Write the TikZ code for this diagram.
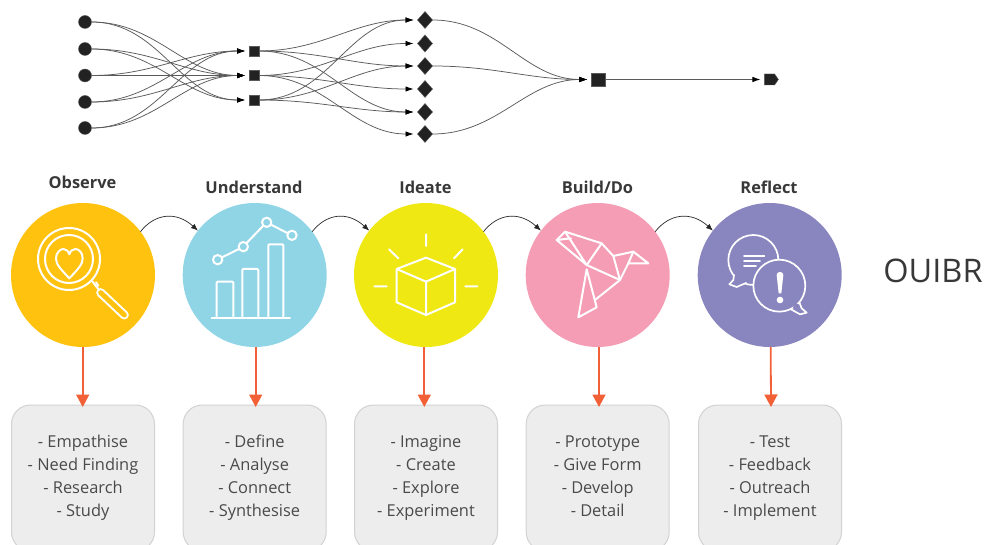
\documentclass[tikz,border=0pt]{standalone}
\usepackage{fontspec}
\setmainfont{Open Sans}
\usetikzlibrary{arrows.meta,shapes.geometric,shapes.symbols}
\definecolor{cObs}{HTML}{FFC20E}
\definecolor{cUnd}{HTML}{8FD5E5}
\definecolor{cIde}{HTML}{EFE813}
\definecolor{cBui}{HTML}{F49DB5}
\definecolor{cRef}{HTML}{8985BE}
\definecolor{cRed}{HTML}{F26038}
\definecolor{cBox}{HTML}{EDEDED}
\definecolor{cBord}{HTML}{D2D2D2}
\definecolor{cTxt}{HTML}{4A4A4A}
\definecolor{cDark}{HTML}{222222}
\definecolor{cEdge}{HTML}{5A5A5A}
\newcommand\cardlines[4]{\rule[-5pt]{0pt}{18pt}#1\\#2\\#3\\\rule[-5pt]{0pt}{18pt}#4}
\tikzset{
  every node/.style={inner sep=0pt,outer sep=0pt},
  flowdot/.style={circle,fill=cDark,draw=cEdge,line width=.4pt,minimum size=13pt},
  flowsq/.style={rectangle,fill=cDark,draw=cEdge,line width=.4pt,minimum size=10pt},
  flowdia/.style={diamond,fill=cDark,draw=cEdge,line width=.4pt,minimum width=15pt,minimum height=17pt},
  flowedge/.style={draw=cEdge,line width=.75pt,shorten >=4pt,-{Latex[length=8pt,width=5.5pt,black]}},
  stage/.style={circle,minimum size=144pt},
  title/.style={font=\bfseries\fontsize{16.4}{18}\selectfont,text=cDark!90!white},
  card/.style={rectangle,rounded corners=19pt,fill=cBox,draw=cBord,line width=1pt,minimum width=143pt,minimum height=146pt,align=center,text=cTxt,font=\fontsize{16.4}{22.8}\selectfont},
  drop/.style={draw=cRed,line width=1.8pt,-{Triangle[length=12.5pt,width=13pt]}},
  hop/.style={draw=black!85,line width=.7pt,-{Latex[length=7pt,width=5.5pt]}},
  icon/.style={draw=white,line width=2pt,line cap=round,line join=round},
}
\begin{document}
\begin{tikzpicture}[x=1pt,y=-1pt]
\useasboundingbox (0,0) rectangle (999,545);
\clip (0,0) rectangle (999,545);
% top flow
\foreach \n/\y in {1/22,2/49,3/75.5,4/102,5/128}{\node[flowdot] (c\n) at (85,\y) {};}
\foreach \n/\y in {1/51,2/75.5,3/100}{\node[flowsq] (s\n) at (254,\y) {};}
\foreach \n/\y in {1/20,2/43.5,3/66,4/89,5/112,6/134}{\node[flowdia] (d\n) at (425,\y) {};}
\node[rectangle,fill=cDark,draw=cEdge,line width=.4pt,minimum size=13.5pt] (big) at (598,79.5) {};
\node[signal,signal to=east,signal pointer angle=110,fill=cDark,draw=cEdge,line width=.4pt,minimum width=14pt,minimum height=11pt] (end) at (769.5,79.5) {};
\foreach \a/\b in {c1/s2,c1/s3,c2/s2,c2/s3,c3/s1,c3/s2,c4/s1,c4/s2,c5/s1,c5/s2,
  s1/d1,s1/d3,s1/d5,s2/d2,s2/d4,s2/d6,s3/d1,s3/d3,s3/d5,d1/big,d3/big,d6/big}
  {\draw[flowedge] (\a.east) to[out=0,in=180] (\b.west);}
\draw[flowedge] (big.east) -- (end.west);
% stages
\node[stage,fill=cObs] (o) at (83,275) {};
\node[stage,fill=cUnd] (u) at (254.7,275) {};
\node[stage,fill=cIde] (i) at (426,275) {};
\node[stage,fill=cBui] (b) at (597.7,275) {};
\node[stage,fill=cRef] (r) at (769.7,275) {};
\node[title] (to) at (82.5,182.5) {Observe};
\node[title] (tu) at (254,187.5) {Understand};
\node[title] (ti) at (425.5,187.5) {Ideate};
\node[title] (tb) at (597.5,187.5) {Build/Do};
\node[title] (tr) at (769,187.5) {Reflect};
\node[card] (co) at (83,478) {\cardlines{- Empathise}{- Need Finding}{- Research}{- Study}};
\node[card] (cu) at (254.7,478) {\cardlines{- Define}{- Analyse}{- Connect}{- Synthesise}};
\node[card] (ci) at (426,478) {\cardlines{- Imagine}{- Create}{- Explore}{- Experiment}};
\node[card] (cb) at (597.7,478) {\cardlines{- Prototype}{- Give Form}{- Develop}{- Detail}};
\node[card] (cr) at (770,478) {\cardlines{- Test}{- Feedback}{- Outreach}{- Implement}};
\foreach \a/\b/\d in {o/co/-.3,u/cu/1,i/ci/-1.7,b/cb/1.3,r/cr/1}
  {\draw[drop] ([xshift=\d pt]\a.south) -- ([xshift=\d pt,yshift=-2pt]\b.north);}
\foreach \a/\b in {o/u,u/i,i/b,b/r}
  {\draw[hop] (\a.37) .. controls +(14,-18) and +(-22,-20) .. (\b.142);}
\node[font=\fontsize{32.5}{36}\selectfont,text=cDark!90!white] (name) at (933,271) {OUIBR};
% magnifier
\begin{scope}[shift={(30,225)},scale=1/3]
\draw[icon] (117,102) circle (93) (117,102) circle (72);
\draw[icon] (118,160) .. controls (90,130) and (78,118) .. (78,100) .. controls (78,82) and (92,72) .. (100,72) .. controls (108,72) and (115,78) .. (118,88) .. controls (121,78) and (128,72) .. (136,72) .. controls (146,72) and (158,82) .. (158,100) .. controls (158,118) and (146,130) .. (118,160) -- cycle;
\draw[icon] (186,168) -- (215,205);
\draw[icon] (198,172) -- (205,182);
\draw[white,line width=9pt,line cap=round] (212,203) -- (283,270);
\draw[cObs,line width=5pt,line cap=round] (212,203) -- (283,270);
\end{scope}
% chart
\begin{scope}[shift={(0,165)},scale=1/3]
\draw[icon,rounded corners=1pt] (650,455) -- (650,350) -- (700,350) -- (700,455);
\draw[icon,rounded corners=1pt] (727,455) -- (727,312) -- (775,312) -- (775,455);
\draw[icon,rounded corners=1pt] (805,455) -- (805,238) -- (850,238) -- (850,455);
\draw[icon] (635,460) -- (870,460);
\draw[icon] (666,277) -- (717,252) (740,234) -- (790,182) (813,179) -- (862,204);
\draw[icon] (653,284) circle (14) (730,245) circle (14) (800,172) circle (14) (876,211) circle (14);
\end{scope}
% cube
\begin{scope}[shift={(340,165)},scale=1/3]
\draw[icon] (258,278) -- (345,312) -- (345,412) -- (258,450) -- (170,412) -- (170,312) -- cycle;
\draw[icon] (170,312) -- (258,350) -- (345,312) (258,350) -- (258,450);
\draw[icon] (258,208) -- (258,243) (147,253) -- (175,280) (368,253) -- (342,280) (103,364) -- (140,364) (376,364) -- (412,364);
\end{scope}
% bird
\begin{scope}[shift={(545,220)},scale=1/3]
\draw[icon] (35,60) -- (60,35) -- (170,70) -- (205,108) -- (265,95) -- (310,130) -- (250,130) -- (225,180) -- (150,240);
\draw[icon] (35,60) -- (78,55) (35,60) -- (125,135) -- (60,35);
\draw[icon] (170,70) -- (125,135) -- (225,180) (205,108) -- (225,180) (265,95) -- (250,130);
\draw[icon] (125,148) -- (100,292) -- (155,262) -- (125,148);
\end{scope}
% chat
\begin{scope}[shift={(720,225)},scale=1/3]
\draw[icon,line width=1.7pt] (100,105) circle (75);
\draw[icon,line width=1.7pt,fill=cRef] (42,150) -- (40,165) -- (28,178) -- (50,186) -- (78,174);
\fill[cRef] (46,150) -- (45,168) -- (70,172) -- (62,150) -- cycle;
\draw[icon,line width=1.7pt,fill=cRef] (178,182) circle (78);
\fill[cRef] (225,235) -- (240,240) -- (247,255) -- (218,250) -- cycle;
\draw[icon,line width=1.7pt] (238,232) -- (245,250) -- (260,263) -- (240,268) -- (215,254);
\draw[icon,line width=1.7pt] (72,92) -- (133,92) (72,108) -- (120,108) (72,124) -- (108,124);
\fill[white] (170,150) .. controls (170,138) and (190,138) .. (190,150) -- (184,205) -- (176,205) -- cycle;
\fill[white] (180,225) circle (10);
\end{scope}
\end{tikzpicture}
\end{document}
